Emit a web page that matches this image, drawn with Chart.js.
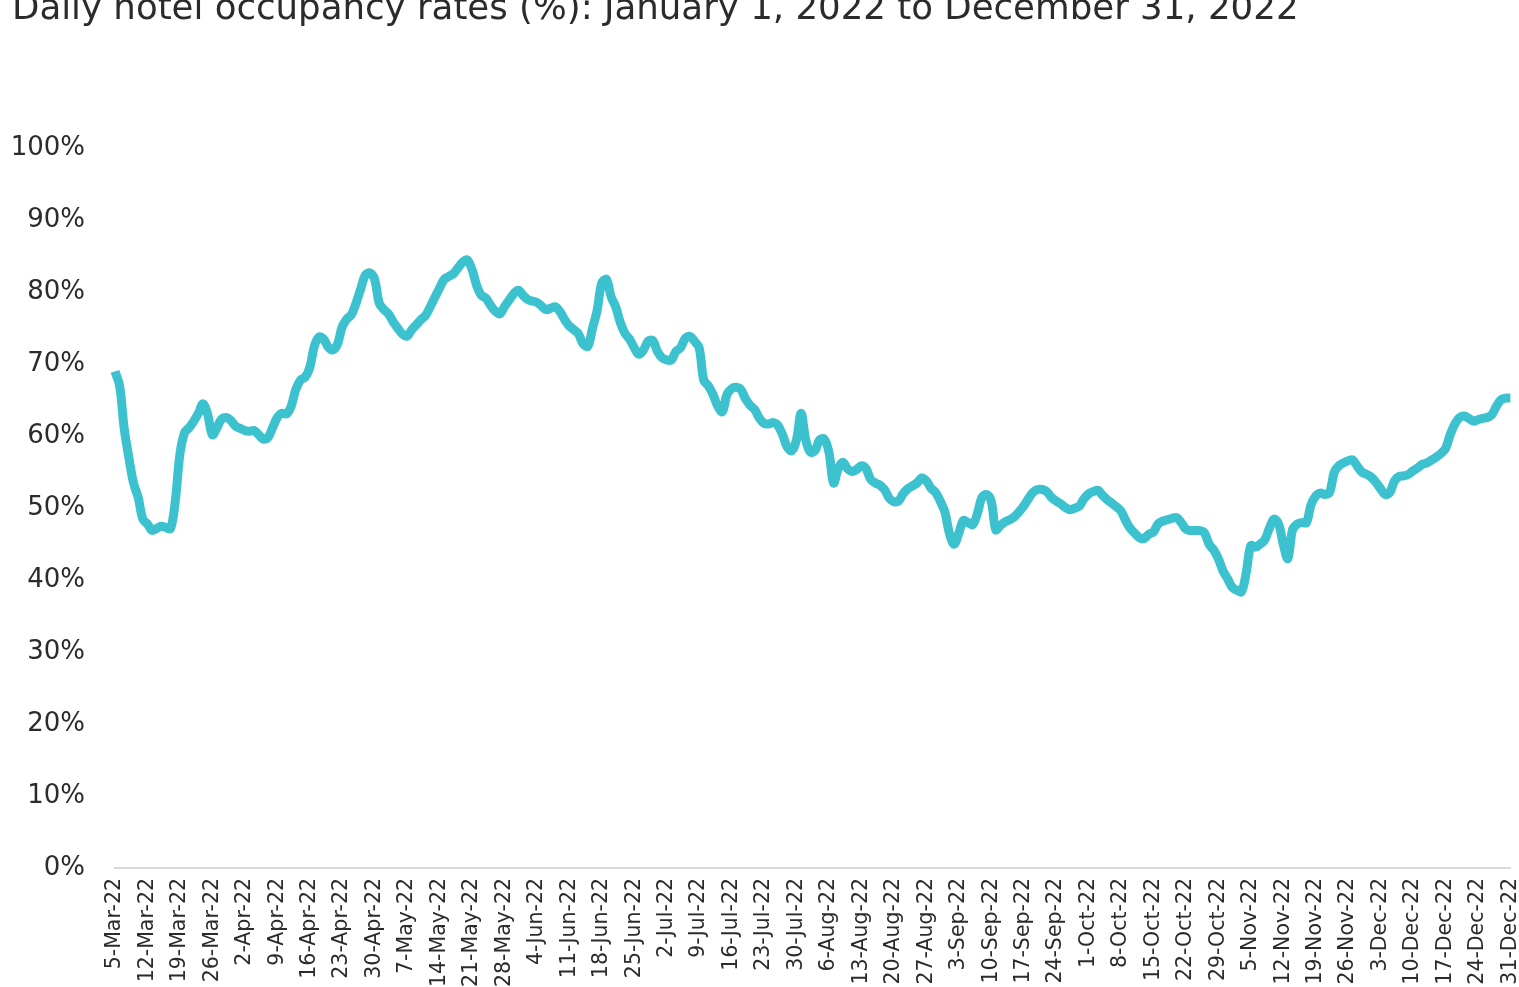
<!DOCTYPE html>
<html>
<head>
<meta charset="utf-8">
<script src="https://cdn.jsdelivr.net/npm/chart.js@4.4.1/dist/chart.umd.min.js"></script>
<style>
  html, body { margin:0; padding:0; background:#fff; overflow:hidden; width:1519px; height:987px; }
  #wrap { position:absolute; left:0; top:-12px; width:1545px; height:1030px; }
</style>
</head>
<body>
<div id="wrap"><canvas id="chart"></canvas></div>
<script>
  // daily occupancy (%), one array per month
  var mar = [69.0, 67, 61, 57, 53.5, 51.5, 48.5, 47.8, 46.9, 47.2, 47.5, 47.3, 47.2, 51, 57.5, 60.5, 61.2, 62.1, 63.2, 64.5, 63, 60.2, 61.2, 62.4, 62.6, 62.2, 61.4];
  var apr = [61.1, 60.8, 60.7, 60.8, 60.2, 59.6, 59.8, 61.2, 62.6, 63.2, 63.1, 64.2, 66.5, 67.8, 68.2, 69.5, 72.5, 73.8, 73.5, 72.4, 72, 72.8, 75.2, 76.3, 76.9, 78.5, 80.5, 82.4, 82.7, 81.8];
  var may = [78.5, 77.6, 77.0, 75.9, 75, 74.2, 73.9, 74.8, 75.5, 76.2, 76.8, 78, 79.3, 80.6, 81.8, 82.2, 82.6, 83.4, 84.2, 84.5, 83.2, 81, 79.6, 79.2, 78.2, 77.4, 77, 78, 78.9, 79.8, 80.3];
  var jun = [79.6, 79, 78.8, 78.6, 78.1, 77.6, 77.8, 78, 77.3, 76.2, 75.3, 74.8, 74.2, 72.8, 72.5, 75, 77.5, 81.3, 81.8, 79.4, 78, 75.8, 74.3, 73.5, 72.3, 71.4, 72, 73.2, 73.3, 71.8];
  var jul = [70.9, 70.6, 70.6, 71.8, 72.3, 73.6, 73.9, 73.2, 72.3, 67.8, 67, 65.8, 64.2, 63.4, 65.8, 66.6, 66.8, 66.5, 65.2, 64.3, 63.7, 62.5, 61.8, 61.7, 61.9, 61.5, 60.2, 58.5, 58, 59.5, 63.2];
  var aug = [59.5, 57.8, 58, 59.5, 59.6, 57.8, 53.5, 55.5, 56.4, 55.5, 55.1, 55.4, 55.9, 55.5, 54, 53.5, 53.2, 52.6, 51.4, 50.9, 51, 52, 52.7, 53.1, 53.5, 54.2, 53.8, 52.8, 52.2, 51, 49.5];
  var sep = [46.5, 45, 46.5, 48.3, 48, 47.7, 49.2, 51.5, 51.9, 51, 47, 47.6, 48.1, 48.4, 48.8, 49.5, 50.3, 51.3, 52.2, 52.6, 52.6, 52.3, 51.5, 51, 50.6, 50.1, 49.8, 50, 50.3, 51.3];
  var oct = [52, 52.3, 52.5, 51.8, 51.2, 50.7, 50.2, 49.6, 48.3, 47.2, 46.5, 45.9, 45.8, 46.4, 46.7, 47.8, 48.2, 48.4, 48.6, 48.7, 48, 47.1, 46.9, 46.9, 46.9, 46.6, 45, 44.2, 43, 41.3, 40.2];
  var nov = [39, 38.6, 38.4, 41, 44.8, 44.6, 45, 45.6, 47.2, 48.5, 47.8, 45, 43, 47, 47.8, 48, 48, 50.5, 51.7, 52.1, 51.9, 52.2, 55, 55.9, 56.3, 56.6, 56.7, 55.8, 55, 54.7];
  var dec = [54.3, 53.6, 52.7, 51.9, 52.2, 53.8, 54.4, 54.5, 54.7, 55.2, 55.6, 56.1, 56.3, 56.7, 57.1, 57.6, 58.3, 60.2, 61.7, 62.6, 62.8, 62.5, 62.1, 62.3, 62.5, 62.6, 63, 64.2, 65.1, 65.3, 65.3];

  var occupancy = [].concat(mar, apr, may, jun, jul, aug, sep, oct, nov, dec);

  var monthNames = ['Jan','Feb','Mar','Apr','May','Jun','Jul','Aug','Sep','Oct','Nov','Dec'];
  var yTicks = [0, 10, 20, 30, 40, 50, 60, 70, 80, 90, 100];
  var tickEvery = 7; // a date label every week

  // one category per day from 5-Mar-22
  var days = [];
  for (var i = 0; i < occupancy.length; i++) {
    var d = new Date(2022, 2, 5 + i);
    days.push(d.getDate() + '-' + monthNames[d.getMonth()] + '-22');
  }

  var FONT = '"DejaVu Sans", sans-serif';
  var TXT = '#2b2b2b';

  new Chart(document.getElementById('chart'), {
    type: 'line',
    data: {
      labels: days,
      datasets: [{
        label: 'Occupancy',
        data: occupancy,
        borderColor: '#3cc1ce',
        borderWidth: 9,
        pointRadius: 0,
        tension: 0.35,
        fill: false
      }]
    },
    options: {
      responsive: true,
      maintainAspectRatio: false,
      animation: false,
      layout: { padding: { left: 12, right: 0, top: 0, bottom: 21 } },
      plugins: {
        legend: { display: false },
        tooltip: { enabled: false },
        title: {
          display: true,
          text: 'Daily hotel occupancy rates (%): January 1, 2022 to December 31, 2022',
          align: 'start',
          color: TXT,
          font: { family: FONT, size: 35.6, weight: 'normal' },
          padding: { top: 0, bottom: 117.7 }
        }
      },
      scales: {
        x: {
          grid: { display: false, drawTicks: false },
          border: { display: true, color: '#d9d9d9', width: 2 },
          ticks: {
            autoSkip: false,
            minRotation: 90,
            maxRotation: 90,
            padding: 10,
            color: TXT,
            font: { family: FONT, size: 20.5 },
            callback: function(v, i){ return i % tickEvery === 0 ? this.getLabelForValue(v) : null; }
          }
        },
        y: {
          min: 0,
          max: 100,
          afterBuildTicks: function(s){ s.ticks = yTicks.map(function(v){ return {value: v}; }); },
          afterFit: function(s){ s.width = 103; },
          grid: { display: false, drawTicks: false },
          border: { display: false },
          ticks: {
            padding: 30,
            color: TXT,
            font: { family: FONT, size: 26 },
            callback: function(v){ return v + '%'; }
          }
        }
      }
    }
  });
</script>
</body>
</html>
